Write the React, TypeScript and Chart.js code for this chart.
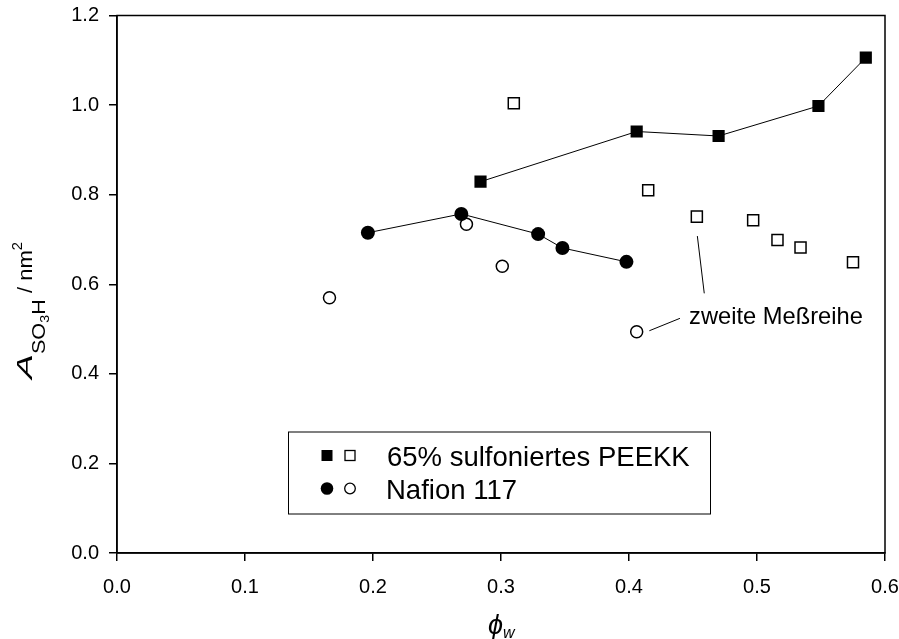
import React, { useEffect, useRef } from 'react';
import { Chart, registerables } from 'chart.js';

Chart.register(...registerables);

// ---- data ----
const peekkFilledX = [0.284, 0.406, 0.470, 0.548, 0.585];
const peekkFilledY = [0.829, 0.941, 0.931, 0.998, 1.106];
const peekkOpenX = [0.310, 0.415, 0.453, 0.497, 0.516, 0.534, 0.575];
const peekkOpenY = [1.004, 0.810, 0.751, 0.743, 0.699, 0.682, 0.649];
const nafionFilledX = [0.196, 0.269, 0.329, 0.348, 0.398];
const nafionFilledY = [0.715, 0.757, 0.712, 0.681, 0.650];
const nafionOpenX = [0.166, 0.273, 0.301, 0.406];
const nafionOpenY = [0.570, 0.734, 0.640, 0.494];

const xTickValues = [0.0, 0.1, 0.2, 0.3, 0.4, 0.5, 0.6];
const yTickValues = [0.0, 0.2, 0.4, 0.6, 0.8, 1.0, 1.2];

const legendLabels = ['65% sulfoniertes PEEKK', 'Nafion 117'];
const annotationText = 'zweite Meßreihe';

const FONT = 'Arial, "Liberation Sans", Helvetica, sans-serif';

const toPts = (xs: number[], ys: number[]) => xs.map((x, i) => ({ x, y: ys[i] }));

type Seg = { t: string; size: number; dy: number; italic?: boolean; sx?: number };
function drawSegs(ctx: CanvasRenderingContext2D, segs: Seg[], x: number, y: number) {
  let cx = x;
  for (const s of segs) {
    const sx = s.sx ?? 1;
    ctx.font = `${s.italic ? 'italic ' : ''}${s.size}px ${FONT}`;
    ctx.save();
    ctx.translate(cx, y + s.dy);
    ctx.scale(sx, 1);
    ctx.fillText(s.t, 0, 0);
    ctx.restore();
    cx += ctx.measureText(s.t).width * sx;
  }
}

const zeroPad = (s: any) => {
  s.paddingLeft = 0;
  s.paddingRight = 0;
  s.paddingTop = 0;
  s.paddingBottom = 0;
};

const decorPlugin = {
  id: 'decor',
  afterDraw(chart: any) {
    const ctx: CanvasRenderingContext2D = chart.ctx;
    const { left, right, top, bottom } = chart.chartArea;
    const xs = chart.scales.x;
    const ys = chart.scales.y;
    ctx.save();
    // frame
    ctx.strokeStyle = '#000';
    ctx.lineWidth = 1.5;
    ctx.strokeRect(left, top, right - left, bottom - top);

    // annotation
    ctx.lineWidth = 1;
    ctx.beginPath();
    ctx.moveTo(xs.getPixelForValue(0.4534), ys.getPixelForValue(0.7076));
    ctx.lineTo(xs.getPixelForValue(0.4588), ys.getPixelForValue(0.5797));
    ctx.moveTo(xs.getPixelForValue(0.4159), ys.getPixelForValue(0.4962));
    ctx.lineTo(xs.getPixelForValue(0.4398), ys.getPixelForValue(0.5239));
    ctx.stroke();
    ctx.fillStyle = '#000';
    ctx.textBaseline = 'alphabetic';
    ctx.textAlign = 'left';
    ctx.font = `23.7px ${FONT}`;
    ctx.fillText(annotationText, xs.getPixelForValue(0.4469), ys.getPixelForValue(0.511));

    // legend box
    const bx = left + 171, by = top + 416, bw = 422, bh = 82;
    ctx.lineWidth = 1;
    ctx.fillStyle = '#fff';
    ctx.fillRect(bx, by, bw, bh);
    ctx.strokeRect(bx + 0.5, by + 0.5, bw, bh);
    const r1 = by + 24, r2 = by + 57;
    const m1 = bx + 39, m2 = bx + 62;
    ctx.fillStyle = '#000';
    ctx.fillRect(m1 - 5.5, r1 - 5.5, 11, 11);
    ctx.lineWidth = 1.3;
    ctx.strokeRect(m2 - 5, r1 - 5, 10, 10);
    ctx.beginPath();
    ctx.arc(m1, r2, 6.3, 0, Math.PI * 2);
    ctx.fill();
    ctx.beginPath();
    ctx.arc(m2, r2, 5.3, 0, Math.PI * 2);
    ctx.stroke();
    ctx.font = `27.5px ${FONT}`;
    ctx.fillText(legendLabels[0], bx + 99, r1 + 10);
    ctx.fillText(legendLabels[1], bx + 98, r2 + 10);

    // y title (rotated)
    ctx.save();
    ctx.translate(31.5, 379);
    ctx.rotate(-Math.PI / 2);
    drawSegs(ctx, [
      { t: 'A', size: 22, dy: 0, italic: true, sx: 1.7 },
      { t: 'SO', size: 18, dy: 13, sx: 1.2 },
      { t: '3', size: 12, dy: 17, sx: 1.2 },
      { t: 'H', size: 18, dy: 13, sx: 1.2 },
      { t: ' / nm', size: 21, dy: 0, sx: 1.05 },
      { t: '2', size: 14, dy: -10, sx: 1.05 },
    ], 0, 0);
    ctx.restore();

    // x title
    drawSegs(ctx, [
      { t: 'ϕ', size: 27, dy: 0, italic: true },
      { t: 'w', size: 16, dy: 4, italic: true },
    ], 488, 634);
    ctx.restore();
  },
};

export default function App() {
  const ref = useRef<HTMLCanvasElement | null>(null);
  useEffect(() => {
    document.body.style.margin = '0';
    if (!ref.current) return;
    const chart = new Chart(ref.current, {
      type: 'scatter',
      data: {
        datasets: [
          {
            label: 'PEEKK',
            data: toPts(peekkFilledX, peekkFilledY),
            showLine: true,
            borderColor: '#000',
            borderWidth: 1,
            backgroundColor: '#000',
            pointStyle: 'rect',
            pointRadius: 8.6,
            pointBorderWidth: 0,
            pointBackgroundColor: '#000',
          },
          {
            label: 'Nafion',
            data: toPts(nafionFilledX, nafionFilledY),
            showLine: true,
            borderColor: '#000',
            borderWidth: 1,
            backgroundColor: '#000',
            pointStyle: 'circle',
            pointRadius: 7,
            pointBorderWidth: 0,
            pointBackgroundColor: '#000',
          },
          {
            label: 'PEEKK 2',
            data: toPts(peekkOpenX, peekkOpenY),
            showLine: false,
            pointStyle: 'rect',
            pointRadius: 7.8,
            pointBorderWidth: 1.5,
            pointBorderColor: '#000',
            pointBackgroundColor: '#fff',
          },
          {
            label: 'Nafion 2',
            data: toPts(nafionOpenX, nafionOpenY),
            showLine: false,
            pointStyle: 'circle',
            pointRadius: 6,
            pointBorderWidth: 1.5,
            pointBorderColor: '#000',
            pointBackgroundColor: '#fff',
          },
        ],
      },
      options: {
        animation: false,
        responsive: false,
        layout: { padding: { top: 15.5, right: 14, left: 0, bottom: 0 } },
        plugins: { legend: { display: false }, tooltip: { enabled: false } },
        scales: {
          x: {
            type: 'linear',
            min: 0,
            max: 0.6,
            afterBuildTicks: (s: any) => { s.ticks = xTickValues.map((v) => ({ value: v })); },
            afterFit: (s: any) => { s.height = 86; zeroPad(s); },
            ticks: {
              color: '#000',
              font: { family: FONT, size: 20 },
              padding: 14,
              maxRotation: 0,
              callback: (v: any) => Number(v).toFixed(1),
            },
            grid: { drawOnChartArea: false, drawTicks: true, tickLength: 8, color: '#000', lineWidth: 1.5 },
            border: { display: true, color: '#000', width: 1.5 },
          },
          y: {
            type: 'linear',
            min: 0,
            max: 1.2,
            afterBuildTicks: (s: any) => { s.ticks = yTickValues.map((v) => ({ value: v })); },
            afterFit: (s: any) => { s.width = 117; zeroPad(s); },
            ticks: {
              color: '#000',
              font: { family: FONT, size: 20 },
              padding: 10,
              callback: (v: any) => Number(v).toFixed(1),
            },
            grid: { drawOnChartArea: false, drawTicks: true, tickLength: 8, color: '#000', lineWidth: 1.5 },
            border: { display: true, color: '#000', width: 1.5 },
          },
        },
      },
      plugins: [decorPlugin],
    });
    return () => chart.destroy();
  }, []);
  return (
    <div style={{ width: 899, height: 639, background: '#fff' }}>
      <canvas ref={ref} width={899} height={639} style={{ display: 'block' }} />
    </div>
  );
}
